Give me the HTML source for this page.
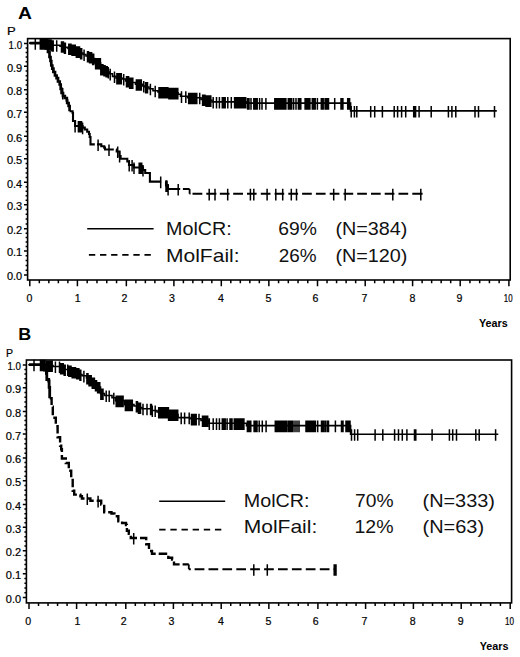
<!DOCTYPE html><html><head><meta charset="utf-8"><style>html,body{margin:0;padding:0;background:#fff;width:520px;height:657px;overflow:hidden}svg{display:block}</style></head><body><svg width="520" height="657" viewBox="0 0 520 657">
<style>.ax{font-family:"Liberation Sans",sans-serif;font-size:10.6px;font-weight:normal;fill:#000;stroke:#000;stroke-width:0.2px}.lg{font-family:"Liberation Sans",sans-serif;font-size:18.4px;fill:#111}.pl{font-family:"Liberation Sans",sans-serif;font-weight:bold;fill:#000}</style>
<rect width="520" height="657" fill="#fff"/>
<rect x="27.6" y="38.6" width="482.6" height="241.4" fill="none" stroke="#000" stroke-width="1.6"/>
<path d="M24 275H27.6M25.6 270.2H27.6M25.6 265.4H27.6M25.6 260.6H27.6M25.6 255.8H27.6M24 251H27.6M25.6 246.54H27.6M25.6 242.08H27.6M25.6 237.62H27.6M25.6 233.16H27.6M24 228.7H27.6M25.6 223.9H27.6M25.6 219.1H27.6M25.6 214.3H27.6M25.6 209.5H27.6M24 204.7H27.6M25.6 200.22H27.6M25.6 195.74H27.6M25.6 191.26H27.6M25.6 186.78H27.6M24 182.3H27.6M25.6 177.6H27.6M25.6 172.9H27.6M25.6 168.2H27.6M25.6 163.5H27.6M24 158.8H27.6M25.6 154.3H27.6M25.6 149.8H27.6M25.6 145.3H27.6M25.6 140.8H27.6M24 136.3H27.6M25.6 131.5H27.6M25.6 126.7H27.6M25.6 121.9H27.6M25.6 117.1H27.6M24 112.3H27.6M25.6 107.8H27.6M25.6 103.3H27.6M25.6 98.8H27.6M25.6 94.3H27.6M24 89.8H27.6M25.6 85.08H27.6M25.6 80.36H27.6M25.6 75.64H27.6M25.6 70.92H27.6M24 66.2H27.6M25.6 61.66H27.6M25.6 57.12H27.6M25.6 52.58H27.6M25.6 48.04H27.6M24 43.5H27.6M29.8 280V286.2M39.32 280V283.2M48.84 280V283.2M58.36 280V283.2M67.88 280V283.2M77.4 280V286.2M87.19 280V283.2M96.98 280V283.2M106.77 280V283.2M116.56 280V283.2M126.35 280V286.2M135.86 280V283.2M145.37 280V283.2M154.88 280V283.2M164.39 280V283.2M173.9 280V286.2M183.38 280V283.2M192.86 280V283.2M202.34 280V283.2M211.82 280V283.2M221.3 280V286.2M230.81 280V283.2M240.32 280V283.2M249.83 280V283.2M259.34 280V283.2M268.85 280V286.2M278.58 280V283.2M288.31 280V283.2M298.04 280V283.2M307.77 280V283.2M317.5 280V286.2M327.04 280V283.2M336.58 280V283.2M346.12 280V283.2M355.66 280V283.2M365.2 280V286.2M374.68 280V283.2M384.16 280V283.2M393.64 280V283.2M403.12 280V283.2M412.6 280V286.2M422.12 280V283.2M431.64 280V283.2M441.16 280V283.2M450.68 280V283.2M460.2 280V286.2M469.94 280V283.2M479.68 280V283.2M489.42 280V283.2M499.16 280V283.2M508.9 280V286.2" stroke="#000" stroke-width="1.5" fill="none"/>
<text transform="translate(6.89 280.4) scale(1.0360 1)" style="font-family:'Liberation Sans',sans-serif;font-size:10.6px;font-weight:normal;fill:#000;stroke:#000;stroke-width:0.2px">0.0</text>
<text transform="translate(6.88 256.4) scale(1.0435 1)" style="font-family:'Liberation Sans',sans-serif;font-size:10.6px;font-weight:normal;fill:#000;stroke:#000;stroke-width:0.2px">0.1</text>
<text transform="translate(6.88 234.1) scale(1.0435 1)" style="font-family:'Liberation Sans',sans-serif;font-size:10.6px;font-weight:normal;fill:#000;stroke:#000;stroke-width:0.2px">0.2</text>
<text transform="translate(6.88 210.1) scale(1.0435 1)" style="font-family:'Liberation Sans',sans-serif;font-size:10.6px;font-weight:normal;fill:#000;stroke:#000;stroke-width:0.2px">0.3</text>
<text transform="translate(6.89 187.7) scale(1.0286 1)" style="font-family:'Liberation Sans',sans-serif;font-size:10.6px;font-weight:normal;fill:#000;stroke:#000;stroke-width:0.2px">0.4</text>
<text transform="translate(6.88 164.2) scale(1.0435 1)" style="font-family:'Liberation Sans',sans-serif;font-size:10.6px;font-weight:normal;fill:#000;stroke:#000;stroke-width:0.2px">0.5</text>
<text transform="translate(6.88 141.7) scale(1.0435 1)" style="font-family:'Liberation Sans',sans-serif;font-size:10.6px;font-weight:normal;fill:#000;stroke:#000;stroke-width:0.2px">0.6</text>
<text transform="translate(6.88 117.7) scale(1.0435 1)" style="font-family:'Liberation Sans',sans-serif;font-size:10.6px;font-weight:normal;fill:#000;stroke:#000;stroke-width:0.2px">0.7</text>
<text transform="translate(6.88 95.2) scale(1.0435 1)" style="font-family:'Liberation Sans',sans-serif;font-size:10.6px;font-weight:normal;fill:#000;stroke:#000;stroke-width:0.2px">0.8</text>
<text transform="translate(6.88 71.6) scale(1.0435 1)" style="font-family:'Liberation Sans',sans-serif;font-size:10.6px;font-weight:normal;fill:#000;stroke:#000;stroke-width:0.2px">0.9</text>
<text transform="translate(8.57 48.9) scale(0.9185 1)" style="font-family:'Liberation Sans',sans-serif;font-size:10.6px;font-weight:normal;fill:#000;stroke:#000;stroke-width:0.2px">1.0</text>
<text transform="translate(26.45 302) scale(1.0000 1)" style="font-family:'Liberation Sans',sans-serif;font-size:10.6px;font-weight:normal;fill:#000;stroke:#000;stroke-width:0.2px">0</text>
<text transform="translate(74.8 302) scale(1.0000 1)" style="font-family:'Liberation Sans',sans-serif;font-size:10.6px;font-weight:normal;fill:#000;stroke:#000;stroke-width:0.2px">1</text>
<text transform="translate(121.45 302) scale(1.0000 1)" style="font-family:'Liberation Sans',sans-serif;font-size:10.6px;font-weight:normal;fill:#000;stroke:#000;stroke-width:0.2px">2</text>
<text transform="translate(168.95 302) scale(1.0000 1)" style="font-family:'Liberation Sans',sans-serif;font-size:10.6px;font-weight:normal;fill:#000;stroke:#000;stroke-width:0.2px">3</text>
<text transform="translate(218 302) scale(1.0000 1)" style="font-family:'Liberation Sans',sans-serif;font-size:10.6px;font-weight:normal;fill:#000;stroke:#000;stroke-width:0.2px">4</text>
<text transform="translate(265.4 302) scale(1.0000 1)" style="font-family:'Liberation Sans',sans-serif;font-size:10.6px;font-weight:normal;fill:#000;stroke:#000;stroke-width:0.2px">5</text>
<text transform="translate(312.55 302) scale(1.0000 1)" style="font-family:'Liberation Sans',sans-serif;font-size:10.6px;font-weight:normal;fill:#000;stroke:#000;stroke-width:0.2px">6</text>
<text transform="translate(361.55 302) scale(1.0000 1)" style="font-family:'Liberation Sans',sans-serif;font-size:10.6px;font-weight:normal;fill:#000;stroke:#000;stroke-width:0.2px">7</text>
<text transform="translate(409.55 302) scale(1.0000 1)" style="font-family:'Liberation Sans',sans-serif;font-size:10.6px;font-weight:normal;fill:#000;stroke:#000;stroke-width:0.2px">8</text>
<text transform="translate(456.45 302) scale(1.0000 1)" style="font-family:'Liberation Sans',sans-serif;font-size:10.6px;font-weight:normal;fill:#000;stroke:#000;stroke-width:0.2px">9</text>
<text transform="translate(503.8 302) scale(0.7453 1)" style="font-family:'Liberation Sans',sans-serif;font-size:10.6px;font-weight:normal;fill:#000;stroke:#000;stroke-width:0.2px">10</text>
<text transform="translate(18.04 19) scale(1.1416 1)" style="font-family:'Liberation Sans',sans-serif;font-size:16.9px;font-weight:bold;fill:#000">A</text>
<text transform="translate(7.01 35) scale(1.2105 1)" style="font-family:'Liberation Sans',sans-serif;font-size:10.8px;font-weight:normal;fill:#000;stroke:#000;stroke-width:0.2px">P</text>
<text transform="translate(478.9 326.9) scale(1.0072 1)" style="font-family:'Liberation Sans',sans-serif;font-size:10.7px;font-weight:bold;fill:#000">Years</text>
<path d="M29.8 43.1H48V44.2H52V45.2H60V46.2H64V47.4H68V48.5H72V49.5H76V51.3H80V53H83V54.5H86V56H89V57H92V58.6H94.5V63H100.6V69H103V70H105.5V71H107.5V72H109.5V73.8H112.5V76.4H116V78H122V79H125.5V81H129V82.5H135.5V84.2H142.5V86H145V87H149V88.7H153V90.7H158V92H168V92.8H178V94.2H180.5V96.3H187.5V97.7H201V99.4H206V100.3H212V101.9H246V103.1H350.6V110.9H496" stroke="#000" stroke-width="1.6" fill="none" stroke-linecap="square"/>
<path d="M35.3 38.1V49.7M40.3 38.1V49.7M41.38 38.1V49.7M42.45 38.1V49.7M43.52 38.1V49.7M44.6 38.1V49.7M45.67 38.1V49.7M46.75 38.1V49.7M47.83 38.1V49.7M48.9 39.2V50.8M49.98 39.2V50.8M51.05 39.2V50.8M52.12 40.2V51.8M53.2 40.2V51.8M56.7 40.2V51.8M61.5 41.2V52.8M62.48 41.2V52.8M63.45 41.2V52.8M64.43 42.4V54M65.4 42.4V54M68.8 43.5V55.1M69.88 43.5V55.1M70.95 43.5V55.1M72.03 44.5V56.1M73.1 44.5V56.1M74.17 44.5V56.1M75.25 44.5V56.1M76.33 46.3V57.9M77.4 46.3V57.9M78.47 46.3V57.9M79.55 46.3V57.9M80.62 48V59.6M81.7 48V59.6M84.1 49.5V61.1M87.5 51V62.6M88.53 51V62.6M89.57 52V63.6M90.6 52V63.6M91.63 52V63.6M92.67 53.6V65.2M93.7 53.6V65.2M95.6 58V69.6M96.8 58V69.6M98 58V69.6M99.2 58V69.6M100.4 58V69.6M100.8 64V75.6M101.87 64V75.6M102.94 64V75.6M104.01 65V76.6M105.09 65V76.6M106.16 66V77.6M107.23 66V77.6M108.3 67V78.6M110.2 68.8V80.4M114.5 71.4V83M116.9 73V84.6M118 73V84.6M119.1 73V84.6M120.2 73V84.6M121.3 73V84.6M123.7 74V85.6M126.5 76V87.6M127.55 76V87.6M128.6 76V87.6M129.65 77.5V89.1M130.7 77.5V89.1M131.75 77.5V89.1M132.8 77.5V89.1M136.4 79.2V90.8M137.62 79.2V90.8M138.85 79.2V90.8M140.08 79.2V90.8M141.3 79.2V90.8M143.7 81V92.6M145.6 82V93.6M146.55 82V93.6M147.5 82V93.6M150.4 83.7V95.3M155.2 85.7V97.3M159 87V98.6M160.11 87V98.6M161.21 87V98.6M162.32 87V98.6M163.42 87V98.6M164.53 87V98.6M165.64 87V98.6M166.74 87V98.6M167.85 87V98.6M168.95 87.8V99.4M170.06 87.8V99.4M171.16 87.8V99.4M172.27 87.8V99.4M173.38 87.8V99.4M174.48 87.8V99.4M175.59 87.8V99.4M176.69 87.8V99.4M177.8 87.8V99.4M181.5 91.3V102.9M185.8 91.3V102.9M188.7 92.7V104.3M189.86 92.7V104.3M191.01 92.7V104.3M192.17 92.7V104.3M193.33 92.7V104.3M194.49 92.7V104.3M195.64 92.7V104.3M196.8 92.7V104.3M199.7 92.7V104.3M202.6 94.4V106M203.77 94.4V106M204.94 94.4V106M206.11 95.3V106.9M207.29 95.3V106.9M208.46 95.3V106.9M209.63 95.3V106.9M210.8 95.3V106.9M213.2 96.9V108.5M216.5 96.9V108.5M219.4 96.9V108.5M222.3 96.9V108.5M223.27 96.9V108.5M224.23 96.9V108.5M225.2 96.9V108.5M227.8 96.9V108.5M231.3 96.9V108.5M234.6 96.9V108.5M235.71 96.9V108.5M236.82 96.9V108.5M237.93 96.9V108.5M239.04 96.9V108.5M240.15 96.9V108.5M241.26 96.9V108.5M242.37 96.9V108.5M243.48 96.9V108.5M244.59 96.9V108.5M245.7 96.9V108.5M247.6 98.1V109.7M249 98.1V109.7M251 98.1V109.7M253.8 98.1V109.7M254.93 98.1V109.7M256.07 98.1V109.7M257.2 98.1V109.7M259.6 98.1V109.7M262 98.1V109.7M265.9 98.1V109.7M274.8 98.1V109.7M275.91 98.1V109.7M277.02 98.1V109.7M278.13 98.1V109.7M279.24 98.1V109.7M280.35 98.1V109.7M281.46 98.1V109.7M282.57 98.1V109.7M283.68 98.1V109.7M284.79 98.1V109.7M285.9 98.1V109.7M288.3 98.1V109.7M289.4 98.1V109.7M290.5 98.1V109.7M291.6 98.1V109.7M293.6 98.1V109.7M296 98.1V109.7M298.4 98.1V109.7M299.6 98.1V109.7M300.8 98.1V109.7M305.1 98.1V109.7M306.3 98.1V109.7M307.5 98.1V109.7M308.7 98.1V109.7M309.9 98.1V109.7M312.3 98.1V109.7M313.27 98.1V109.7M314.23 98.1V109.7M315.2 98.1V109.7M317.4 98.1V109.7M321.3 98.1V109.7M322.25 98.1V109.7M323.2 98.1V109.7M325.1 98.1V109.7M326.23 98.1V109.7M327.37 98.1V109.7M328.5 98.1V109.7M334.7 98.1V109.7M341 98.1V109.7M341.95 98.1V109.7M342.9 98.1V109.7M347.7 98.1V109.7M348.65 98.1V109.7M349.6 98.1V109.7M351.2 105.9V117.5M354.4 105.9V117.5M356.8 105.9V117.5M370.7 105.9V117.5M374.7 105.9V117.5M382.4 105.9V117.5M394.2 105.9V117.5M397.6 105.9V117.5M401.6 105.9V117.5M405.7 105.9V117.5M413.7 105.9V117.5M414.65 105.9V117.5M415.6 105.9V117.5M419.1 105.9V117.5M431.2 105.9V117.5M448.4 105.9V117.5M451.9 105.9V117.5M455.8 105.9V117.5M475 105.9V117.5M478.5 105.9V117.5M494.5 105.9V117.5" stroke="#000" stroke-width="1.5" fill="none"/>
<path d="M29.8 43.1H46V48.5H48V52H49.5V57H50.5V61H51.3V65.5H52.3V68.7H53.4V72H55V75.5H56.6V78.2H58V81.5H59.7V84.5H60.7V88.8H61.6V93H63V96H64.8V98H66.8V100.5H67.2V103H68.6V106H69.6V111.3H69.6" stroke="#000" stroke-width="2.7" fill="none"/>
<path d="M69.6 111.3H72.6V113H73V121H75.1V126H82.6V127.6H84.8V129.5H87.2V131.8H89V134H89.7V137H90.5V144.4H94.8M97 144.4H101.3V146.2H104.2V147.6H105V149.5H113.8M116 149.5H116.7V151.5H119.5V156H120.6V158.7H127.3V161.5H129V165H134V167.5H143V170H145.2V173H149.9V181.6H161.2M165.4 181.6H166V185.5H168V189H180.2M182.9 189H189.6" stroke="#000" stroke-width="2.1" fill="none"/>
<path d="M189.6 189V193.8" stroke="#000" stroke-width="1.8" fill="none"/>
<path d="M189.6 193.8H190.4M192.5 193.8H202.3M206.3 193.8H216.4M219.8 193.8H229.5M233.2 193.8H243M247 193.8H256.6M260.8 193.8H270.5M274.6 193.8H284.2M288.3 193.8H298.1M302.1 193.8H311.8M315.9 193.8H325.6M329.7 193.8H339.4M343.5 193.8H353.2M357.2 193.8H366.9M371 193.8H380.7M384.7 193.8H394.4M398.5 193.8H408.2M412.3 193.8H422.6" stroke="#000" stroke-width="1.9" fill="none"/>
<path d="M62.7 88V99.6M75.1 121V132.6M78.4 121V132.6M79.45 121V132.6M80.5 121V132.6M81.55 121V132.6M82.6 122.6V134.2M98.1 139.4V151M109 144.5V156.1M117.7 146.5V158.1M119.6 151V162.6M129.2 160V171.6M132.1 160V171.6M134 162.5V174.1M139.2 162.5V174.1M140.47 162.5V174.1M141.73 162.5V174.1M143 165V176.6M160.7 176.6V188.2M166 180.5V192.1M167.05 180.5V192.1M168.1 184V195.6M178.2 184V195.6M209.2 188.8V200.4M215 188.8V200.4M227.7 188.8V200.4M250.4 188.8V200.4M253.8 188.8V200.4M267.1 188.8V200.4M275.8 188.8V200.4M282.7 188.8V200.4M291.3 188.8V200.4M296.5 188.8V200.4M333.7 188.8V200.4M345.2 188.8V200.4M392.8 188.8V200.4M420.8 188.8V200.4" stroke="#000" stroke-width="1.5" fill="none"/>
<rect x="26.4" y="360" width="485.2" height="242.9" fill="none" stroke="#000" stroke-width="1.6"/>
<path d="M22.8 597.5H26.4M24.4 592.74H26.4M24.4 587.98H26.4M24.4 583.22H26.4M24.4 578.46H26.4M22.8 573.7H26.4M24.4 569.12H26.4M24.4 564.54H26.4M24.4 559.96H26.4M24.4 555.38H26.4M22.8 550.8H26.4M24.4 546.08H26.4M24.4 541.36H26.4M24.4 536.64H26.4M24.4 531.92H26.4M22.8 527.2H26.4M24.4 522.68H26.4M24.4 518.16H26.4M24.4 513.64H26.4M24.4 509.12H26.4M22.8 504.6H26.4M24.4 499.82H26.4M24.4 495.04H26.4M24.4 490.26H26.4M24.4 485.48H26.4M22.8 480.7H26.4M24.4 476.16H26.4M24.4 471.62H26.4M24.4 467.08H26.4M24.4 462.54H26.4M22.8 458H26.4M24.4 453.22H26.4M24.4 448.44H26.4M24.4 443.66H26.4M24.4 438.88H26.4M22.8 434.1H26.4M24.4 429.56H26.4M24.4 425.02H26.4M24.4 420.48H26.4M24.4 415.94H26.4M22.8 411.4H26.4M24.4 406.68H26.4M24.4 401.96H26.4M24.4 397.24H26.4M24.4 392.52H26.4M22.8 387.8H26.4M24.4 383.24H26.4M24.4 378.68H26.4M24.4 374.12H26.4M24.4 369.56H26.4M22.8 365H26.4M29 602.9V609.1M38.52 602.9V606.1M48.04 602.9V606.1M57.56 602.9V606.1M67.08 602.9V606.1M76.6 602.9V609.1M86.44 602.9V606.1M96.28 602.9V606.1M106.12 602.9V606.1M115.96 602.9V606.1M125.8 602.9V609.1M135.32 602.9V606.1M144.84 602.9V606.1M154.36 602.9V606.1M163.88 602.9V606.1M173.4 602.9V609.1M182.96 602.9V606.1M192.52 602.9V606.1M202.08 602.9V606.1M211.64 602.9V606.1M221.2 602.9V609.1M230.73 602.9V606.1M240.26 602.9V606.1M249.79 602.9V606.1M259.32 602.9V606.1M268.85 602.9V609.1M278.66 602.9V606.1M288.47 602.9V606.1M298.28 602.9V606.1M308.09 602.9V606.1M317.9 602.9V609.1M327.44 602.9V606.1M336.98 602.9V606.1M346.52 602.9V606.1M356.06 602.9V606.1M365.6 602.9V609.1M375.16 602.9V606.1M384.72 602.9V606.1M394.28 602.9V606.1M403.84 602.9V606.1M413.4 602.9V609.1M422.96 602.9V606.1M432.52 602.9V606.1M442.08 602.9V606.1M451.64 602.9V606.1M461.2 602.9V609.1M471 602.9V606.1M480.8 602.9V606.1M490.6 602.9V606.1M500.4 602.9V606.1M510.2 602.9V609.1" stroke="#000" stroke-width="1.5" fill="none"/>
<text transform="translate(5.79 602.9) scale(1.0360 1)" style="font-family:'Liberation Sans',sans-serif;font-size:10.6px;font-weight:normal;fill:#000;stroke:#000;stroke-width:0.2px">0.0</text>
<text transform="translate(5.78 579.1) scale(1.0435 1)" style="font-family:'Liberation Sans',sans-serif;font-size:10.6px;font-weight:normal;fill:#000;stroke:#000;stroke-width:0.2px">0.1</text>
<text transform="translate(5.78 556.2) scale(1.0435 1)" style="font-family:'Liberation Sans',sans-serif;font-size:10.6px;font-weight:normal;fill:#000;stroke:#000;stroke-width:0.2px">0.2</text>
<text transform="translate(5.78 532.6) scale(1.0435 1)" style="font-family:'Liberation Sans',sans-serif;font-size:10.6px;font-weight:normal;fill:#000;stroke:#000;stroke-width:0.2px">0.3</text>
<text transform="translate(5.79 510) scale(1.0286 1)" style="font-family:'Liberation Sans',sans-serif;font-size:10.6px;font-weight:normal;fill:#000;stroke:#000;stroke-width:0.2px">0.4</text>
<text transform="translate(5.78 486.1) scale(1.0435 1)" style="font-family:'Liberation Sans',sans-serif;font-size:10.6px;font-weight:normal;fill:#000;stroke:#000;stroke-width:0.2px">0.5</text>
<text transform="translate(5.78 463.4) scale(1.0435 1)" style="font-family:'Liberation Sans',sans-serif;font-size:10.6px;font-weight:normal;fill:#000;stroke:#000;stroke-width:0.2px">0.6</text>
<text transform="translate(5.78 439.5) scale(1.0435 1)" style="font-family:'Liberation Sans',sans-serif;font-size:10.6px;font-weight:normal;fill:#000;stroke:#000;stroke-width:0.2px">0.7</text>
<text transform="translate(5.78 416.8) scale(1.0435 1)" style="font-family:'Liberation Sans',sans-serif;font-size:10.6px;font-weight:normal;fill:#000;stroke:#000;stroke-width:0.2px">0.8</text>
<text transform="translate(5.78 393.2) scale(1.0435 1)" style="font-family:'Liberation Sans',sans-serif;font-size:10.6px;font-weight:normal;fill:#000;stroke:#000;stroke-width:0.2px">0.9</text>
<text transform="translate(7.47 370.4) scale(0.9185 1)" style="font-family:'Liberation Sans',sans-serif;font-size:10.6px;font-weight:normal;fill:#000;stroke:#000;stroke-width:0.2px">1.0</text>
<text transform="translate(25.35 624.9) scale(1.0000 1)" style="font-family:'Liberation Sans',sans-serif;font-size:10.6px;font-weight:normal;fill:#000;stroke:#000;stroke-width:0.2px">0</text>
<text transform="translate(74.4 624.9) scale(1.0000 1)" style="font-family:'Liberation Sans',sans-serif;font-size:10.6px;font-weight:normal;fill:#000;stroke:#000;stroke-width:0.2px">1</text>
<text transform="translate(120.75 624.9) scale(1.0000 1)" style="font-family:'Liberation Sans',sans-serif;font-size:10.6px;font-weight:normal;fill:#000;stroke:#000;stroke-width:0.2px">2</text>
<text transform="translate(168.6 624.9) scale(1.0000 1)" style="font-family:'Liberation Sans',sans-serif;font-size:10.6px;font-weight:normal;fill:#000;stroke:#000;stroke-width:0.2px">3</text>
<text transform="translate(218 624.9) scale(1.0000 1)" style="font-family:'Liberation Sans',sans-serif;font-size:10.6px;font-weight:normal;fill:#000;stroke:#000;stroke-width:0.2px">4</text>
<text transform="translate(265.4 624.9) scale(1.0000 1)" style="font-family:'Liberation Sans',sans-serif;font-size:10.6px;font-weight:normal;fill:#000;stroke:#000;stroke-width:0.2px">5</text>
<text transform="translate(312.75 624.9) scale(1.0000 1)" style="font-family:'Liberation Sans',sans-serif;font-size:10.6px;font-weight:normal;fill:#000;stroke:#000;stroke-width:0.2px">6</text>
<text transform="translate(361.55 624.9) scale(1.0000 1)" style="font-family:'Liberation Sans',sans-serif;font-size:10.6px;font-weight:normal;fill:#000;stroke:#000;stroke-width:0.2px">7</text>
<text transform="translate(409.75 624.9) scale(1.0000 1)" style="font-family:'Liberation Sans',sans-serif;font-size:10.6px;font-weight:normal;fill:#000;stroke:#000;stroke-width:0.2px">8</text>
<text transform="translate(457.85 624.9) scale(1.0000 1)" style="font-family:'Liberation Sans',sans-serif;font-size:10.6px;font-weight:normal;fill:#000;stroke:#000;stroke-width:0.2px">9</text>
<text transform="translate(504.98 624.9) scale(0.7689 1)" style="font-family:'Liberation Sans',sans-serif;font-size:10.6px;font-weight:normal;fill:#000;stroke:#000;stroke-width:0.2px">10</text>
<text transform="translate(18.25 339.7) scale(1.1354 1)" style="font-family:'Liberation Sans',sans-serif;font-size:15.8px;font-weight:bold;fill:#000">B</text>
<text transform="translate(6.07 356.6) scale(1.0364 1)" style="font-family:'Liberation Sans',sans-serif;font-size:10.2px;font-weight:normal;fill:#000;stroke:#000;stroke-width:0.2px">P</text>
<text transform="translate(479.7 649.9) scale(1.0108 1)" style="font-family:'Liberation Sans',sans-serif;font-size:10.7px;font-weight:bold;fill:#000">Years</text>
<path d="M29 364.7H46V365.5H53V366.5H60V368H64V369.5H68V370.5H72V372H76V373H80V374.5H82V375.8H86.5V378H89V380H92V382.5H95V385H97V387H100.5V393.5H104.5V395.5H112V397.8H115.5V400.6H124.5V404.6H134V406H137.5V407.5H142V408.7H152V410.5H157V412H168.5V414.5H178V417.6H190V418.8H201V420.5H208.5V423.3H246.5V425.6H350.6V434.2H497.5" stroke="#000" stroke-width="1.6" fill="none" stroke-linecap="square"/>
<path d="M34 359.7V371.3M40.5 359.7V371.3M41.62 359.7V371.3M42.75 359.7V371.3M43.88 359.7V371.3M45 359.7V371.3M46.6 360.5V372.1M47.72 360.5V372.1M48.84 360.5V372.1M49.96 360.5V372.1M51.08 360.5V372.1M52.2 360.5V372.1M55.4 361.5V373.1M59.5 361.5V373.1M60.6 363V374.6M61.2 363V374.6M62.2 363V374.6M63.2 363V374.6M64.2 364.5V376.1M65.2 364.5V376.1M67.7 364.5V376.1M68.82 365.5V377.1M69.94 365.5V377.1M71.05 365.5V377.1M72.17 367V378.6M73.29 367V378.6M74.41 367V378.6M75.53 367V378.6M76.65 368V379.6M77.76 368V379.6M78.88 368V379.6M80 369.5V381.1M80.8 369.5V381.1M83.9 370.8V382.4M86.9 373V384.6M87.97 373V384.6M89.05 375V386.6M90.12 375V386.6M91.19 375V386.6M92.27 377.5V389.1M93.34 377.5V389.1M94.41 377.5V389.1M95.49 380V391.6M96.56 380V391.6M97.63 382V393.6M98.71 382V393.6M99.78 382V393.6M100.85 388.5V400.1M101.93 388.5V400.1M103 388.5V400.1M106.2 390.5V402.1M109.2 390.5V402.1M113.8 392.8V404.4M116.2 395.6V407.2M117.35 395.6V407.2M118.5 395.6V407.2M119.65 395.6V407.2M120.8 395.6V407.2M121.95 395.6V407.2M123.1 395.6V407.2M125.4 399.6V411.2M126.55 399.6V411.2M127.7 399.6V411.2M128.85 399.6V411.2M130 399.6V411.2M131.15 399.6V411.2M132.3 399.6V411.2M136.4 401V412.6M137.43 401V412.6M138.45 402.5V414.1M139.47 402.5V414.1M140.5 402.5V414.1M143 403.7V415.3M147 403.7V415.3M150.6 403.7V415.3M151.45 403.7V415.3M152.3 405.5V417.1M155.2 405.5V417.1M158.7 407V418.6M159.78 407V418.6M160.86 407V418.6M161.93 407V418.6M163.01 407V418.6M164.09 407V418.6M165.17 407V418.6M166.24 407V418.6M167.32 407V418.6M168.4 407V418.6M168.6 409.5V421.1M169.74 409.5V421.1M170.88 409.5V421.1M172.01 409.5V421.1M173.15 409.5V421.1M174.29 409.5V421.1M175.42 409.5V421.1M176.56 409.5V421.1M177.7 409.5V421.1M181.2 412.6V424.2M184.6 412.6V424.2M189.2 412.6V424.2M191.5 413.8V425.4M192.68 413.8V425.4M193.85 413.8V425.4M195.02 413.8V425.4M196.2 413.8V425.4M199 413.8V425.4M202.5 415.5V427.1M203.54 415.5V427.1M204.58 415.5V427.1M205.62 415.5V427.1M206.66 415.5V427.1M207.7 415.5V427.1M209.3 418.3V429.9M213.2 418.3V429.9M216.5 418.3V429.9M219.4 418.3V429.9M222.3 418.3V429.9M223.27 418.3V429.9M224.23 418.3V429.9M225.2 418.3V429.9M227.1 418.3V429.9M230 418.3V429.9M231 418.3V429.9M232 418.3V429.9M234.3 418.3V429.9M235.37 418.3V429.9M236.43 418.3V429.9M237.5 418.3V429.9M238.57 418.3V429.9M239.63 418.3V429.9M240.7 418.3V429.9M241.77 418.3V429.9M242.83 418.3V429.9M243.9 418.3V429.9M247.4 420.6V432.2M248.35 420.6V432.2M249.3 420.6V432.2M250.8 420.6V432.2M254.1 420.6V432.2M255.07 420.6V432.2M256.03 420.6V432.2M257 420.6V432.2M259.2 420.6V432.2M262.3 420.6V432.2M266.1 420.6V432.2M275.3 420.6V432.2M276.45 420.6V432.2M277.6 420.6V432.2M278.75 420.6V432.2M279.9 420.6V432.2M281.05 420.6V432.2M282.2 420.6V432.2M283.35 420.6V432.2M284.5 420.6V432.2M285.65 420.6V432.2M286.8 420.6V432.2M288.5 420.6V432.2M289.5 420.6V432.2M290.5 420.6V432.2M291.5 420.6V432.2M293 420.6V432.2M295 420.6V432.2M297 420.6V432.2M299 420.6V432.2M306 420.6V432.2M307.2 420.6V432.2M308.4 420.6V432.2M309.6 420.6V432.2M310.8 420.6V432.2M312.3 420.6V432.2M313.33 420.6V432.2M314.37 420.6V432.2M315.4 420.6V432.2M317.7 420.6V432.2M321.5 420.6V432.2M322.65 420.6V432.2M323.8 420.6V432.2M325.4 420.6V432.2M327.2 420.6V432.2M328.5 420.6V432.2M335.4 420.6V432.2M341.5 420.6V432.2M343 420.6V432.2M346 420.6V432.2M347 420.6V432.2M348 420.6V432.2M349 420.6V432.2M350 420.6V432.2M351.5 429.2V440.8M354.6 429.2V440.8M357.7 429.2V440.8M375.1 429.2V440.8M382.8 429.2V440.8M394.6 429.2V440.8M398.5 429.2V440.8M402.3 429.2V440.8M406.9 429.2V440.8M414.5 429.2V440.8M415.8 429.2V440.8M432.1 429.2V440.8M449.4 429.2V440.8M452.7 429.2V440.8M456.5 429.2V440.8M475.8 429.2V440.8M479.2 429.2V440.8M495.6 429.2V440.8" stroke="#000" stroke-width="1.5" fill="none"/>
<path d="M29 364.7H44.5V370H46.4V373.4H46.8V379.5H48.7V381H49.1V387.3H49.7V398.3H49.7" stroke="#000" stroke-width="2.8" fill="none"/>
<path d="M49.7 398.3H51.6V406.8H52.8V417.7H55.8V426.2H57.6V437.2H60.1V445.7H61.2V449.2H61.9V458.5H65.8V463H68.8V470.8H71.2V480H72.7V490.8H74.2V494.6H80.4V496.2H81.9V498.5H90.4V500.8H101.2V504.6H104.2V512.3H111.5V513.5H114.4V516.3H118.3V521.2H122.1V523H126V525H126.9V530.8H128.8V533.7H130.8V538H146.2V544.2H149V551H152V553.8H168.3V557.7H172.1V559.6H174V564.4H188.8" stroke="#000" stroke-width="2.4" fill="none" stroke-dasharray="8.5 3"/>
<path d="M188.8 564.4V569.2" stroke="#000" stroke-width="1.8" fill="none"/>
<path d="M188.8 569.2H190.8M194.6 569.2H204.4M208.5 569.2H218.2M222.4 569.2H232.1M236.3 569.2H246M250.2 569.2H259.9M264.1 569.2H273.8M278 569.2H287.7M291.9 569.2H301.6M305.8 569.2H315.5M319.8 569.2H329.5M333.6 569.2H336" stroke="#000" stroke-width="1.9" fill="none"/>
<path d="M87.3 493.5V505.1M98.1 495.8V507.4M133.7 533V544.6M253.8 564.2V575.8M267.3 564.2V575.8M334.2 564.2V575.8M335.1 564.2V575.8M336 564.2V575.8" stroke="#000" stroke-width="1.5" fill="none"/>
<path d="M87.2 228.7H153.6" stroke="#000" stroke-width="1.6"/>
<path d="M88.9 254.9H95.25M100.01 254.9H106.36M111.12 254.9H117.47M122.23 254.9H128.58M133.34 254.9H139.69M144.45 254.9H150.8" stroke="#000" stroke-width="1.6"/>
<text transform="translate(166.08 235) scale(1.0779 1)" style="font-family:'Liberation Sans',sans-serif;font-size:18.3px;font-weight:normal;fill:#111">MolCR:</text>
<text transform="translate(165.98 261.9) scale(1.1494 1)" style="font-family:'Liberation Sans',sans-serif;font-size:18.3px;font-weight:normal;fill:#111">MolFail:</text>
<text transform="translate(278.25 235) scale(1.0541 1)" style="font-family:'Liberation Sans',sans-serif;font-size:18.3px;font-weight:normal;fill:#111">69%</text>
<text transform="translate(278.77 261.9) scale(1.0342 1)" style="font-family:'Liberation Sans',sans-serif;font-size:18.3px;font-weight:normal;fill:#111">26%</text>
<text transform="translate(335.41 235) scale(1.0807 1)" style="font-family:'Liberation Sans',sans-serif;font-size:18.3px;font-weight:normal;fill:#111">(N=384)</text>
<text transform="translate(335.41 261.9) scale(1.0807 1)" style="font-family:'Liberation Sans',sans-serif;font-size:18.3px;font-weight:normal;fill:#111">(N=120)</text>
<path d="M159.2 501.2H225.2" stroke="#000" stroke-width="1.6"/>
<path d="M159.2 529.6H165.57M170.35 529.6H176.72M181.49 529.6H187.86M192.64 529.6H199.01M203.78 529.6H210.15M214.93 529.6H221.3" stroke="#000" stroke-width="1.6"/>
<text transform="translate(243.78 506.5) scale(1.0779 1)" style="font-family:'Liberation Sans',sans-serif;font-size:18.3px;font-weight:normal;fill:#111">MolCR:</text>
<text transform="translate(243.68 532.7) scale(1.1494 1)" style="font-family:'Liberation Sans',sans-serif;font-size:18.3px;font-weight:normal;fill:#111">MolFail:</text>
<text transform="translate(355.05 506.5) scale(1.0513 1)" style="font-family:'Liberation Sans',sans-serif;font-size:18.3px;font-weight:normal;fill:#111">70%</text>
<text transform="translate(354.51 532.7) scale(1.0665 1)" style="font-family:'Liberation Sans',sans-serif;font-size:18.3px;font-weight:normal;fill:#111">12%</text>
<text transform="translate(422.5 506.5) scale(1.0885 1)" style="font-family:'Liberation Sans',sans-serif;font-size:18.3px;font-weight:normal;fill:#111">(N=333)</text>
<text transform="translate(422.5 532.7) scale(1.0921 1)" style="font-family:'Liberation Sans',sans-serif;font-size:18.3px;font-weight:normal;fill:#111">(N=63)</text>
</svg></body></html>
